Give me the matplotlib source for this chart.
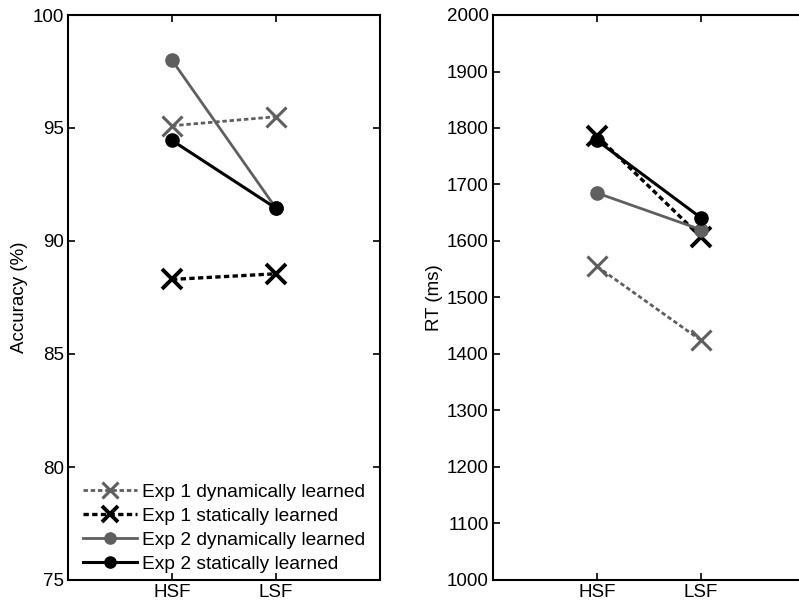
import matplotlib
matplotlib.use("Agg")
import matplotlib.pyplot as plt

categories = ["HSF", "LSF"]
series_labels = ["Exp 1 dynamically learned", "Exp 1 statically learned",
                 "Exp 2 dynamically learned", "Exp 2 statically learned"]
accuracy = {
    "Exp 1 dynamically learned": [95.1, 95.5],
    "Exp 1 statically learned": [88.3, 88.55],
    "Exp 2 dynamically learned": [98.0, 91.45],
    "Exp 2 statically learned": [94.45, 91.45],
}
rt = {
    "Exp 1 dynamically learned": [1555, 1424],
    "Exp 1 statically learned": [1786, 1607],
    "Exp 2 dynamically learned": [1685, 1620],
    "Exp 2 statically learned": [1778, 1641],
}
acc_ticks = [75, 80, 85, 90, 95, 100]
rt_ticks = list(range(1000, 2001, 100))

plt.rcParams['font.family'] = ['Liberation Sans', 'DejaVu Sans']
GRAY = "#5f5f5f"
styles = {
    "Exp 1 dynamically learned": dict(color=GRAY, marker="x", ms=14, mew=2.2, lw=2, dashes=(1.6, 1.0)),
    "Exp 1 statically learned": dict(color="black", marker="x", ms=14, mew=2.8, lw=2.4, dashes=(1.6, 1.0)),
    "Exp 2 dynamically learned": dict(color=GRAY, marker="o", ms=9.5, lw=2, linestyle="-"),
    "Exp 2 statically learned": dict(color="black", marker="o", ms=9.5, lw=2.2, linestyle="-"),
}

W, H = 799, 609
fig = plt.figure(figsize=(W / 100, H / 100), dpi=100)
ax1 = fig.add_axes([68 / W, (H - 580) / H, 312 / W, 565 / H])
ax2 = fig.add_axes([493 / W, (H - 580) / H, 312 / W, 565 / H])

x = [1, 2]
for name in series_labels:
    ax1.plot(x, accuracy[name], label=name, **styles[name])
    ax2.plot(x, rt[name], label=name, **styles[name])

for ax, ticks, lim, ylabel in [(ax1, acc_ticks, (75, 100), "Accuracy (%)"),
                               (ax2, rt_ticks, (1000, 2000), "RT (ms)")]:
    ax.set_xlim(0, 3)
    ax.set_ylim(*lim)
    ax.set_xticks(x)
    ax.set_xticklabels(categories)
    ax.set_yticks(ticks)
    ax.set_ylabel(ylabel, fontsize=13.5, labelpad=3)
    ax.tick_params(direction="in", length=5, width=1.2, top=True, right=True,
                   labelsize=13.5, pad=3)
    for s in ax.spines.values():
        s.set_linewidth(1.5)

ax2.tick_params(right=False)
ax2.spines["right"].set_visible(False)

leg = ax1.legend(loc="lower left", bbox_to_anchor=(15 / 312, 7 / 565), frameon=False,
                 fontsize=13.8, handlelength=2.8, handletextpad=0.3,
                 labelspacing=0.34, borderaxespad=0.0, borderpad=0.0,
                 markerscale=0.85)

fig.savefig("out.png", dpi=100)
